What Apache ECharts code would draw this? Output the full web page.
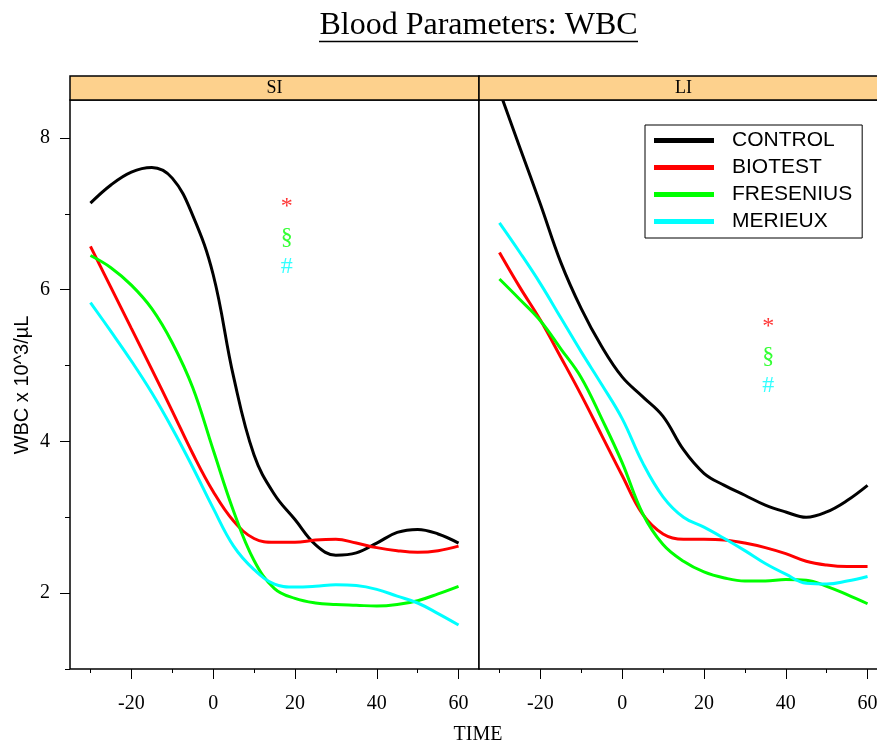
<!DOCTYPE html>
<html>
<head>
<meta charset="utf-8">
<script src="https://cdn.jsdelivr.net/npm/echarts@6/dist/echarts.min.js"></script>
<style>
  html, body { margin: 0; padding: 0; background: #fff; overflow: hidden; }
  #chart { width: 900px; height: 743px; }
</style>
</head>
<body>
<div id="chart"></div>
<script>
// Sampling times (minutes) shared by every smoothed curve
const time = [-30, -25, -20, -15, -10, -5, 0, 5, 10, 15, 20, 25, 30, 35, 40, 45, 50, 55, 60];

const groups = ['CONTROL', 'BIOTEST', 'FRESENIUS', 'MERIEUX'];
const panels = ['SI', 'LI'];

// WBC (10^3/µL), SI panel
const siControl   = [7.14, 7.38, 7.55, 7.61, 7.47, 6.98, 6.20, 4.85, 3.82, 3.30, 2.97, 2.64, 2.50, 2.53, 2.66, 2.80, 2.84, 2.78, 2.66];
const siBiotest   = [6.57, 6.03, 5.49, 4.95, 4.40, 3.84, 3.34, 2.95, 2.72, 2.67, 2.67, 2.70, 2.71, 2.66, 2.60, 2.56, 2.54, 2.56, 2.62];
const siFresenius = [6.45, 6.29, 6.06, 5.75, 5.30, 4.71, 3.89, 3.08, 2.43, 2.06, 1.93, 1.87, 1.85, 1.84, 1.83, 1.85, 1.90, 1.99, 2.09];
const siMerieux   = [5.83, 5.45, 5.06, 4.64, 4.17, 3.66, 3.12, 2.62, 2.31, 2.12, 2.08, 2.09, 2.11, 2.10, 2.05, 1.96, 1.87, 1.73, 1.58];

// WBC (10^3/µL), LI panel
const liControl   = [8.62, 7.87, 7.13, 6.36, 5.75, 5.25, 4.85, 4.59, 4.33, 3.89, 3.58, 3.42, 3.29, 3.16, 3.07, 3.00, 3.07, 3.22, 3.42];
const liBiotest   = [6.49, 6.03, 5.60, 5.11, 4.61, 4.08, 3.55, 3.04, 2.78, 2.71, 2.71, 2.70, 2.66, 2.60, 2.52, 2.42, 2.37, 2.35, 2.35];
const liFresenius = [6.14, 5.87, 5.59, 5.22, 4.84, 4.30, 3.72, 3.05, 2.64, 2.42, 2.28, 2.20, 2.16, 2.16, 2.18, 2.17, 2.09, 1.98, 1.86];
const liMerieux   = [6.88, 6.49, 6.08, 5.63, 5.18, 4.75, 4.30, 3.72, 3.27, 3.00, 2.87, 2.72, 2.56, 2.39, 2.25, 2.13, 2.12, 2.16, 2.22];

// Significance markers (BIOTEST, FRESENIUS, MERIEUX) placed in each panel
const markSymbols = ['*', '§', '#'];
const siMarkTime = 18;
const siMarkY = [7.10, 6.68, 6.30];
const liMarkTime = 35.7;
const liMarkY = [5.51, 5.11, 4.74];

// Axis ticks
const xMajorTicks = [-20, 0, 20, 40, 60];
const xMinorTicks = [-30, -10, 10, 30, 50];
const yMajorTicks = [2, 4, 6, 8];
const yMinorTicks = [1, 3, 5, 7];

const colors = ['#000000', '#ff0000', '#00ff00', '#00ffff'];
const serif = '"Liberation Serif", "Times New Roman", serif';
const sans = '"Liberation Sans", Arial, sans-serif';

const X_MIN = -35, X_MAX = 65, Y_MIN = 1, Y_MAX = 8.5;
const PANEL_TOP = 100, PANEL_H = 569, PANEL_W = 409;
const panelLeft = [70, 479];

const chart = echarts.init(document.getElementById('chart'), null, { renderer: 'canvas' });

const grids = panelLeft.map(l => ({
  left: l, top: PANEL_TOP, width: PANEL_W, height: PANEL_H,
  show: true, borderColor: '#000', borderWidth: 1.5, backgroundColor: '#fff', containLabel: false
}));

const xAxes = [];
const yAxes = [];
panelLeft.forEach((_, gi) => {
  xAxes.push({
    type: 'value', gridIndex: gi, min: X_MIN, max: X_MAX, position: 'bottom',
    axisLine: { show: false, onZero: false }, splitLine: { show: false },
    axisTick: { show: true, length: 10, lineStyle: { color: '#000', width: 1 }, customValues: xMajorTicks },
    axisLabel: { show: true, customValues: xMajorTicks, margin: 25, color: '#000', fontFamily: serif, fontSize: 20 }
  });
  xAxes.push({
    type: 'value', gridIndex: gi, min: X_MIN, max: X_MAX, position: 'bottom',
    axisLine: { show: false, onZero: false }, splitLine: { show: false },
    axisTick: { show: true, length: 4, lineStyle: { color: '#000', width: 1 }, customValues: xMinorTicks },
    axisLabel: { show: false }
  });
});
// Left panel carries the y scale; right panel shares it without ticks
yAxes.push({
  type: 'value', gridIndex: 0, min: Y_MIN, max: Y_MAX, position: 'left',
  axisLine: { show: false, onZero: false }, splitLine: { show: false },
  axisTick: { show: true, length: 10, lineStyle: { color: '#000', width: 1 }, customValues: yMajorTicks },
  axisLabel: { show: true, customValues: yMajorTicks, margin: 20, color: '#000', fontFamily: serif, fontSize: 20 }
});
yAxes.push({
  type: 'value', gridIndex: 0, min: Y_MIN, max: Y_MAX, position: 'left',
  axisLine: { show: false, onZero: false }, splitLine: { show: false },
  axisTick: { show: true, length: 5, lineStyle: { color: '#000', width: 1 }, customValues: yMinorTicks },
  axisLabel: { show: false }
});
yAxes.push({
  type: 'value', gridIndex: 1, min: Y_MIN, max: Y_MAX, position: 'left',
  axisLine: { show: false, onZero: false }, splitLine: { show: false },
  axisTick: { show: false }, axisLabel: { show: false }
});

const panelData = [
  [siControl, siBiotest, siFresenius, siMerieux],
  [liControl, liBiotest, liFresenius, liMerieux]
];

const series = [];
panelData.forEach((sets, pi) => {
  sets.forEach((vals, gi) => {
    series.push({
      name: groups[gi], type: 'line',
      xAxisIndex: pi * 2, yAxisIndex: pi === 0 ? 0 : 2,
      data: time.map((t, i) => [t, vals[i]]),
      smooth: 0.4, showSymbol: false, symbol: 'none',
      clip: true, silent: true,
      lineStyle: { color: colors[gi], width: 3 },
      itemStyle: { color: colors[gi] },
      z: 2 + gi
    });
  });
});

const markSets = [
  { x: siMarkTime, ys: siMarkY, xi: 0, yi: 0 },
  { x: liMarkTime, ys: liMarkY, xi: 2, yi: 2 }
];
markSets.forEach(m => {
  series.push({
    type: 'scatter', xAxisIndex: m.xi, yAxisIndex: m.yi, silent: true,
    symbolSize: 0,
    data: m.ys.map((y, i) => ({
      value: [m.x, y], name: markSymbols[i],
      label: { color: colors[i + 1] }
    })),
    label: {
      show: true, position: 'inside', formatter: p => p.name,
      fontFamily: serif, fontSize: 24, align: 'center', verticalAlign: 'middle'
    },
    z: 10
  });
});

// Strip headers above each panel
const graphics = [];
panels.forEach((p, i) => {
  graphics.push({
    type: 'rect', z: 20,
    shape: { x: panelLeft[i], y: 76, width: PANEL_W, height: 24 },
    style: { fill: '#fdd18d', stroke: '#000', lineWidth: 1.5 }
  });
  graphics.push({
    type: 'text', z: 21,
    x: panelLeft[i] + PANEL_W / 2, y: 88,
    style: { text: p, fill: '#000', font: '18px ' + serif, align: 'center', verticalAlign: 'middle' }
  });
});
// Title with underline
graphics.push({
  type: 'text', z: 21, x: 478.5, y: 26,
  style: { text: 'Blood Parameters: WBC', fill: '#000', font: '32px ' + serif, align: 'center', verticalAlign: 'middle' }
});
graphics.push({
  type: 'line', z: 21,
  shape: { x1: 319, y1: 41.5, x2: 638, y2: 41.5 },
  style: { stroke: '#000', lineWidth: 1.5 }
});
// Axis titles
graphics.push({
  type: 'text', z: 21, x: 478, y: 735,
  style: { text: 'TIME', fill: '#000', font: '20px ' + serif, align: 'center', verticalAlign: 'middle' }
});
graphics.push({
  type: 'text', z: 21, x: 22, y: 385, rotation: Math.PI / 2,
  style: { text: 'WBC x 10^3/µL', fill: '#000', font: '20px ' + sans, align: 'center', verticalAlign: 'middle' }
});

chart.setOption({
  animation: false,
  backgroundColor: '#fff',
  grid: grids,
  xAxis: xAxes,
  yAxis: yAxes,
  legend: {
    data: groups, orient: 'vertical', left: 645, top: 125,
    backgroundColor: '#fff', borderColor: '#000', borderWidth: 1,
    padding: [5, 10, 6, 9], itemGap: 6, itemWidth: 60, itemHeight: 5,
    icon: 'rect', selectedMode: false,
    textStyle: { fontFamily: sans, fontSize: 21, lineHeight: 21, color: '#000', padding: [0, 0, 0, 13] }
  },
  series: series,
  graphic: graphics
});
</script>
</body>
</html>
